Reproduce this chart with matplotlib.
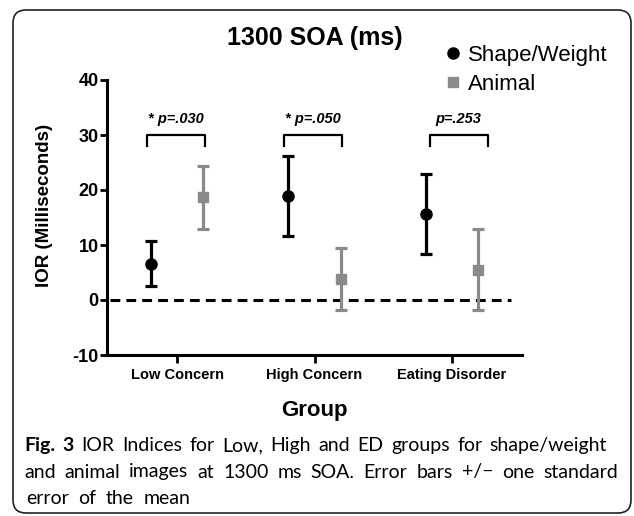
import matplotlib
matplotlib.use('Agg')
import matplotlib.pyplot as plt
from matplotlib.lines import Line2D
from matplotlib.patches import FancyBboxPatch
from matplotlib.transforms import IdentityTransform

GROUPS      = ['Low Concern', 'High Concern', 'Eating Disorder']
SHAPE_MEAN  = [6.6, 18.9, 15.6]
SHAPE_SE    = [4.1, 7.2, 7.3]
ANIMAL_MEAN = [18.7, 3.8, 5.5]
ANIMAL_SE   = [5.7, 5.7, 7.4]
P_LABELS    = ['* p=.030', '* p=.050', 'p=.253']
YTICKS      = [-10, 0, 10, 20, 30, 40]

CAPTION_1 = [('Fig.', 'bold'), ('3', 'bold'), ('IOR', 'normal'), ('Indices', 'normal'),
             ('for', 'normal'), ('Low,', 'normal'), ('High', 'normal'), ('and', 'normal'),
             ('ED', 'normal'), ('groups', 'normal'), ('for', 'normal'),
             ('shape/weight', 'normal')]
CAPTION_2 = 'and animal images at 1300 ms SOA. Error bars +/\u2212 one standard'
CAPTION_3 = 'error of the mean'

GREY = '#8a8a8a'
W, H = 634, 516

plt.rcParams['font.family'] = ['Liberation Sans', 'DejaVu Sans']
plt.rcParams['axes.unicode_minus'] = False

fig = plt.figure(figsize=(W / 100, H / 100), dpi=100)
ax = fig.add_axes([107 / W, 1 - 355 / H, 415 / W, 275 / H])

x = list(range(len(GROUPS)))
off = 0.19
xs_shape = [v - off for v in x]
xs_animal = [v + off for v in x]

ax.errorbar(xs_shape, SHAPE_MEAN, yerr=SHAPE_SE, fmt='o', color='black',
            ms=8, elinewidth=2.3, capsize=4, capthick=2.3, zorder=3)
ax.errorbar(xs_animal, ANIMAL_MEAN, yerr=ANIMAL_SE, fmt='s', color=GREY,
            ms=7.5, elinewidth=2.3, capsize=4, capthick=2.3, zorder=3)

ax.plot([-0.49, 2.43], [0, 0], ls=(0, (3.2, 2.0)), color='black', lw=2.2, zorder=2)

# significance brackets
for i, lab in enumerate(P_LABELS):
    left, right = xs_shape[i] - 0.03, xs_animal[i] + 0.01
    if i == 2:
        left, right = xs_shape[i] + 0.03, xs_animal[i] + 0.07
    ax.plot([left, left, right, right], [28, 30, 30, 28], color='black', lw=1.6)
    ax.text((left + right) / 2, 31.7, lab, ha='center', va='bottom',
            fontsize=10.5, fontweight='bold', fontstyle='italic')

ax.set_xlim(-0.511, 2.511)
ax.set_ylim(-10, 40)
ax.set_yticks(YTICKS)
ax.set_xticks(x)
ax.set_xticklabels(GROUPS, fontsize=10.5, fontweight='bold')
for t in ax.get_yticklabels():
    t.set_fontsize(13)
    t.set_fontweight('bold')
ax.tick_params(axis='y', length=5, width=2, pad=1)
ax.tick_params(axis='x', length=5.5, width=2, pad=4)
for s in ['top', 'right']:
    ax.spines[s].set_visible(False)
for s in ['left', 'bottom']:
    ax.spines[s].set_linewidth(2.2)

fig.text(315 / W, 1 - 45 / H, '1300 SOA (ms)', ha='center', va='baseline',
         fontsize=18, fontweight='bold')
fig.text(45 / W, 1 - 205 / H, 'IOR (Milliseconds)', ha='center', va='center',
         rotation=90, fontsize=13.5, fontweight='bold')
fig.text(314 / W, 1 - 416 / H, 'Group', ha='center', va='baseline',
         fontsize=16, fontweight='bold')

handles = [Line2D([], [], marker='o', color='black', ls='none', ms=8),
           Line2D([], [], marker='s', color=GREY, ls='none', ms=7.5)]
fig.legend(handles, ['Shape/Weight', 'Animal'], loc='upper left',
           bbox_to_anchor=(437 / W, 1 - 36 / H), frameon=False, fontsize=16,
           handlelength=0.6, handletextpad=0.4, labelspacing=0.35, borderaxespad=0)

# caption, justified like the journal layout
cap_kw = dict(fontsize=14, family=['Lato', 'DejaVu Sans'], va='baseline')
renderer = fig.canvas.get_renderer()


def justify(words, y, x0=24, x1=612):
    texts = [fig.text(0, 1 - y / H, w, fontweight=wt, **cap_kw) for w, wt in words]
    widths = [t.get_window_extent(renderer).width for t in texts]
    gap = (x1 - x0 - sum(widths)) / (len(texts) - 1)
    xpos = x0
    for t, w in zip(texts, widths):
        t.set_x(xpos / W)
        xpos += w + gap


justify(CAPTION_1, 451, x1=607)
justify([(w, 'normal') for w in CAPTION_2.split()], 477.5, x1=618)
justify([(w, 'normal') for w in CAPTION_3.split()], 504, x0=26, x1=190)

box = FancyBboxPatch((13, 3), 618, 503, boxstyle='round,pad=0,rounding_size=13',
                     transform=IdentityTransform(), fill=False, lw=1.2,
                     edgecolor='#222222')
fig.add_artist(box)

fig.savefig('out.png', dpi=100)
